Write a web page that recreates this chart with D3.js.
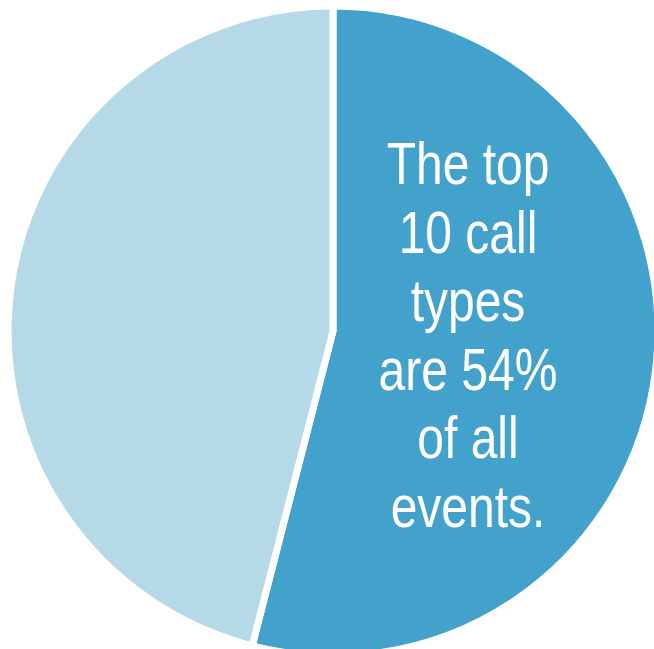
<!DOCTYPE html>
<html>
<head>
<meta charset="utf-8">
<script src="https://cdn.jsdelivr.net/npm/d3@7"></script>
<style>
  html, body { margin: 0; padding: 0; background: #ffffff; }
  svg { display: block; }
</style>
</head>
<body>
<svg id="chart" width="654" height="649"></svg>
<script>
// Share of all events: top 10 call types vs. everything else
const categories = ["Top 10 call types", "All other call types"];
const shares = [54, 46];
const sliceColors = ["#43a2cb", "#b6d9e8"];
const labelLines = ["The top", "10 call", "types", "are 54%", "of all", "events."];

const width = 654, height = 649;
const cx = 333, cy = 331, radius = 325;

const svg = d3.select("#chart");

const pie = d3.pie().sort(null).value(d => d.value);
const arc = d3.arc().innerRadius(0).outerRadius(radius);

const data = categories.map((c, i) => ({ name: c, value: shares[i] }));
const color = d3.scaleOrdinal().domain(categories).range(sliceColors);

const g = svg.append("g").attr("transform", `translate(${cx},${cy})`);

g.selectAll("path.slice")
  .data(pie(data))
  .join("path")
  .attr("class", "slice")
  .attr("d", arc)
  .attr("fill", d => color(d.data.name))
  .attr("stroke", "#ffffff")
  .attr("stroke-width", 7)
  .attr("stroke-linejoin", "miter");

// Callout text inside the larger slice
const label = svg.append("g")
  .attr("transform", "translate(468,0) scale(0.8,1)");

label.selectAll("text")
  .data(labelLines)
  .join("text")
  .attr("x", 0)
  .attr("y", (d, i) => 184 + i * 68.6)
  .attr("text-anchor", "middle")
  .attr("fill", "#ffffff")
  .attr("font-family", "'Liberation Sans', Arial, sans-serif")
  .attr("font-size", 60)
  .text(d => d);
</script>
</body>
</html>
